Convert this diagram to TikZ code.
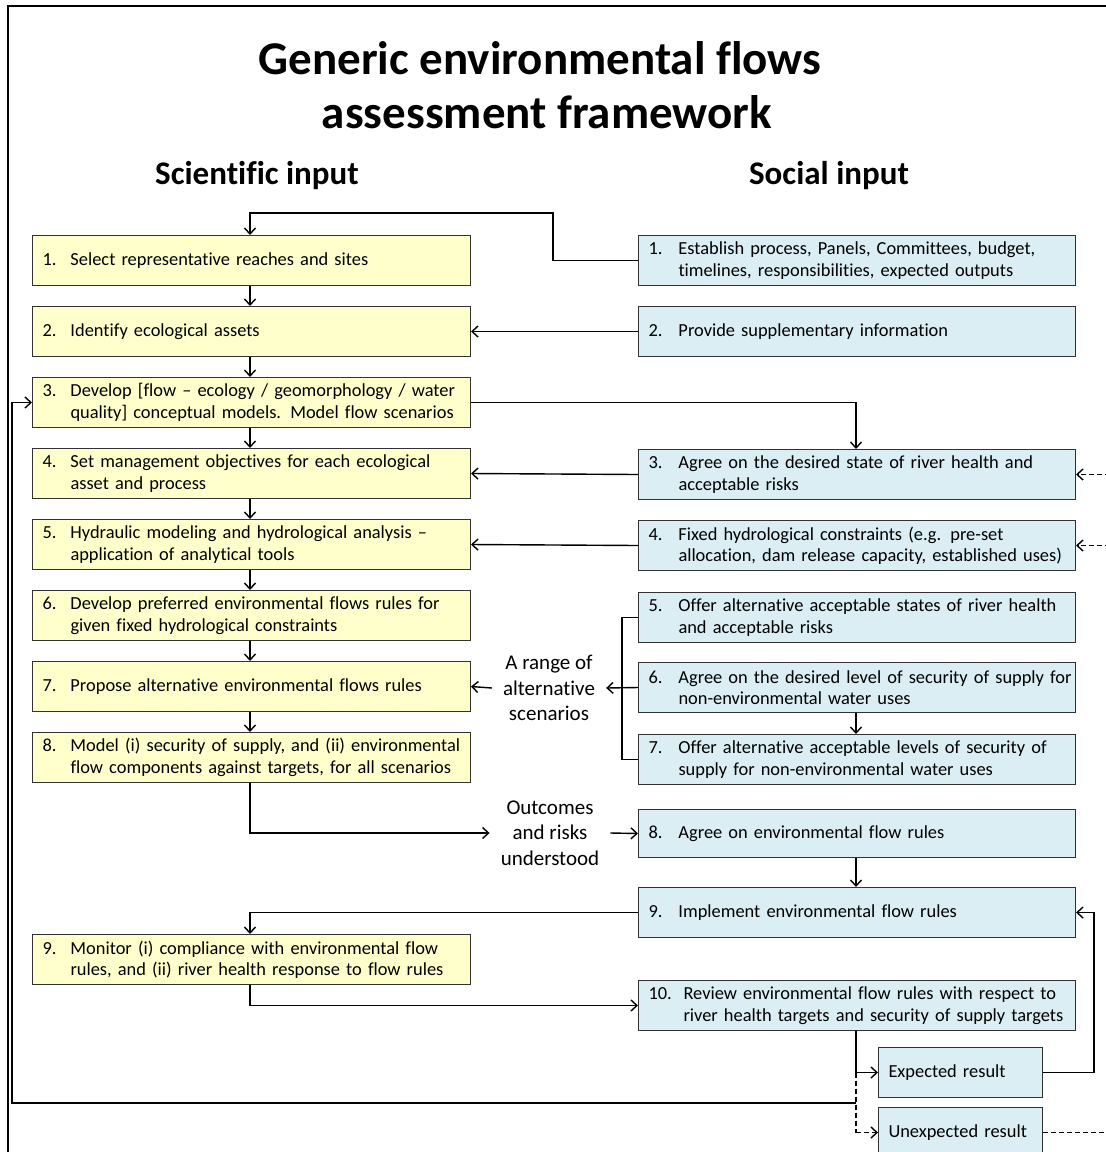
\documentclass[tikz,border=0pt]{standalone}
\usepackage{fontspec}
\setmainfont{Carlito}[Ligatures=NoCommon]
\usetikzlibrary{arrows.meta}

\definecolor{sciyellow}{RGB}{255,255,204}
\definecolor{socblue}{RGB}{218,238,243}
\definecolor{edge}{RGB}{50,50,50}

\newlength\numw
\setlength\numw{28pt}
% numbered one-line and two-line box texts with a hanging number
\newcommand{\oneln}[2]{\makebox[\numw][l]{#1}\mbox{#2}}
\newcommand{\twoln}[3]{\makebox[\numw][l]{#1}\mbox{#2}\\\hspace*{\numw}\mbox{#3}}

\tikzset{
  boxbase/.style={draw=edge, line width=1pt, anchor=north west, align=left,
    inner ysep=0pt, minimum height=50pt,
    font=\fontsize{18.4}{21.5}\selectfont},
  sci/.style={boxbase, fill=sciyellow, minimum width=438pt, text width=418pt,
    inner xsep=10pt, execute at begin node={\setlength\numw{28pt}}},
  soc/.style={boxbase, fill=socblue, minimum width=437pt, text width=417pt,
    inner xsep=10pt, execute at begin node={\setlength\numw{30pt}}},
  res/.style={boxbase, fill=socblue, minimum width=164pt, text width=144pt,
    inner xsep=10pt},
  note/.style={align=center, inner xsep=11pt, inner ysep=2pt,
    font=\fontsize{21}{25.5}\selectfont},
  link/.style={line width=1.4pt, draw=black},
  arr/.style={link, -{Straight Barb[length=6pt,width=11pt,line width=1.4pt]}},
  dashlink/.style={link, dashed, dash pattern=on 5pt off 3pt},
  dasharr/.style={arr, dashed, dash pattern=on 5pt off 3pt},
}

\begin{document}
\begin{tikzpicture}[x=1pt,y=-1pt]
  \useasboundingbox (0,0) rectangle (1106,1152);
  \clip (0,0) rectangle (1106,1152);

  % frame
  \draw[line width=2pt] (8,1160) -- (8,6) -- (1110,6);

  % headings
  \node[font=\fontsize{47}{56}\selectfont\bfseries] (title1) at (540,58) {Generic environmental flows};
  \node[font=\fontsize{47}{56}\selectfont\bfseries] (title2) at (547,112) {assessment framework};
  \node[font=\fontsize{33}{40}\selectfont\bfseries] (hsci) at (257,176) {Scientific input};
  \node[font=\fontsize{33}{40}\selectfont\bfseries] (hsoc) at (829,176) {Social input};

  % column positions of the connectors
  \coordinate (xl) at (250,0);
  \coordinate (xr) at (856,0);
  \coordinate (xb) at (622,0);
  \coordinate (xloop) at (12,0);
  \coordinate (xback) at (1094,0);
  \coordinate (xedge) at (1110,0);
  \coordinate (top) at (553,213);
  \coordinate (loopy) at (0,1103);

  % scientific input
  \node[sci] (L1) at (32,235) {\oneln{1.}{Select representative reaches and sites}};
  \node[sci] (L2) at (32,306) {\oneln{2.}{Identify ecological assets}};
  \node[sci] (L3) at (32,377) {\twoln{3.}{Develop [flow -- ecology / geomorphology / water}{quality] conceptual models. Model flow scenarios}};
  \node[sci] (L4) at (32,448) {\twoln{4.}{Set management objectives for each ecological}{asset and process}};
  \node[sci] (L5) at (32,519) {\twoln{5.}{Hydraulic modeling and hydrological analysis --}{application of analytical tools}};
  \node[sci] (L6) at (32,590) {\twoln{6.}{Develop preferred environmental flows rules for}{given fixed hydrological constraints}};
  \node[sci] (L7) at (32,661) {\oneln{7.}{Propose alternative environmental flows rules}};
  \node[sci] (L8) at (32,732) {\twoln{8.}{Model (i) security of supply, and (ii) environmental}{flow components against targets, for all scenarios}};
  \node[sci] (L9) at (32,934) {\twoln{9.}{Monitor (i) compliance with environmental flow}{rules, and (ii) river health response to flow rules}};

  % social input
  \node[soc] (R1) at (638,235) {\twoln{1.}{Establish process, Panels, Committees, budget,}{timelines, responsibilities, expected outputs}};
  \node[soc] (R2) at (638,306) {\oneln{2.}{Provide supplementary information}};
  \node[soc] (R3) at (638,449) {\twoln{3.}{Agree on the desired state of river health and}{acceptable risks}};
  \node[soc] (R4) at (638,520) {\twoln{4.}{Fixed hydrological constraints (e.g. pre-set}{allocation, dam release capacity, established uses)}};
  \node[soc] (R5) at (638,592) {\twoln{5.}{Offer alternative acceptable states of river health}{and acceptable risks}};
  \node[soc] (R6) at (638,662) {\twoln{6.}{Agree on the desired level of security of supply for}{non-environmental water uses}};
  \node[soc] (R7) at (638,734) {\twoln{7.}{Offer alternative acceptable levels of security of}{supply for non-environmental water uses}};
  \node[soc, minimum height=48pt] (R8) at (638,809) {\oneln{8.}{Agree on environmental flow rules}};
  \node[soc] (R9) at (638,887) {\oneln{9.}{Implement environmental flow rules}};
  \node[soc, execute at begin node={\setlength\numw{35pt}}] (R10) at (638,980) {\twoln{10.}{Review environmental flow rules with respect to}{river health targets and security of supply targets}};
  \node[res] (exp) at (878,1047) {Expected result};
  \node[res] (unexp) at (878,1107) {Unexpected result};

  % labels between the columns
  \node[note] (rng) at (549,688) {A range of\\alternative\\scenarios};
  \node[note] (out) at (550,833) {Outcomes\\and risks\\understood};

  % scientific chain
  \draw[arr] (R1.west) -| (top) -| (L1.north -| xl);
  \draw[arr] (L1.south -| xl) -- (L2.north -| xl);
  \draw[arr] (L2.south -| xl) -- (L3.north -| xl);
  \draw[arr] (L3.south -| xl) -- (L4.north -| xl);
  \draw[arr] (L4.south -| xl) -- (L5.north -| xl);
  \draw[arr] (L5.south -| xl) -- (L6.north -| xl);
  \draw[arr] (L6.south -| xl) -- (L7.north -| xl);
  \draw[arr] (L7.south -| xl) -- (L8.north -| xl);

  % social inputs feeding the scientific steps
  \draw[arr] (R2.west) -- (L2.east);
  \draw[arr] (L3.east) -| (R3.north -| xr);
  \draw[arr] (R3.west) -- (L4.east);
  \draw[arr] (R4.west) -- (L5.east);

  % alternative scenarios
  \draw[link] (R5.west) -- (R5.west -| xb) -- (R7.west -| xb) -- (R7.west);
  \draw[arr] (R6.west) -- (rng.east);
  \draw[arr] (rng.west) -- (L7.east);
  \draw[arr] (R6.south -| xr) -- (R7.north -| xr);

  % outcomes and implementation
  \draw[arr] (L8.south -| xl) |- (out.west);
  \draw[arr] (out.east) -- (R8.west);
  \draw[arr] (R8.south -| xr) -- (R9.north -| xr);
  \draw[arr] (R9.west) -| (L9.north -| xl);
  \draw[arr] (L9.south -| xl) |- (R10.west);

  % review results
  \draw[link] (R10.south -| xr) -- (exp.west -| xr);
  \draw[arr] (exp.west -| xr) -- (exp.west);
  \draw[dashlink] (exp.west -| xr) -- (unexp.west -| xr);
  \draw[dasharr] (unexp.west -| xr) -- (unexp.west);
  \draw[arr] (exp.east) -- (exp.east -| xback) -- (R9.east -| xback) -- (R9.east);
  \draw[dashlink] (unexp.east) -- (unexp.east -| xedge);
  \draw[dasharr] (R3.east -| xedge) -- (R3.east);
  \draw[dasharr] (R4.east -| xedge) -- (R4.east);

  % loop back to the conceptual models
  \draw[arr] (loopy -| xr) -- (loopy -| xloop) -- (L3.west -| xloop) -- (L3.west);
\end{tikzpicture}
\end{document}
